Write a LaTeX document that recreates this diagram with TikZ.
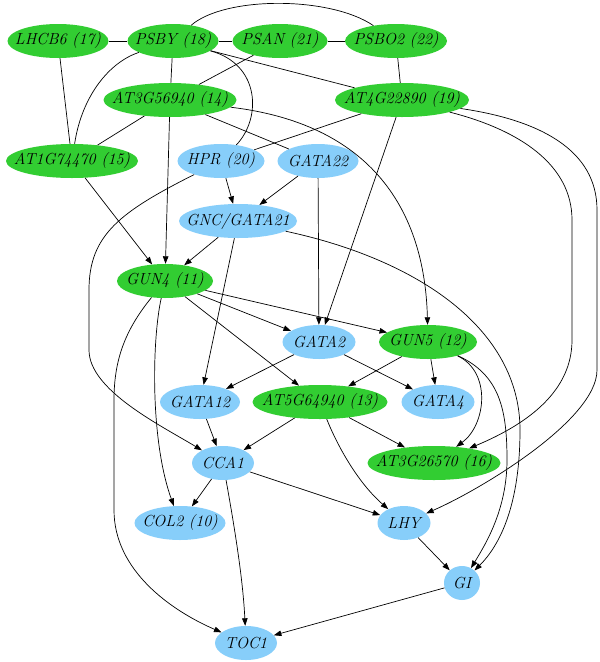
\documentclass[tikz,border=0pt]{standalone}
\usepackage{tikz}
\usetikzlibrary{arrows.meta,shapes.geometric}
\definecolor{genegreen}{RGB}{50,205,50}
\definecolor{geneblue}{RGB}{135,206,250}
\tikzset{
  gene/.style={ellipse, inner xsep=-20pt, inner ysep=-4pt, minimum height=34pt, font=\fontsize{16}{19}\selectfont\itshape},
  gnode/.style={gene, fill=genegreen, minimum width=#1},
  bnode/.style={gene, fill=geneblue, minimum width=#1},
  link/.style={line width=0.7pt},
  reg/.style={line width=0.7pt, -{Triangle[length=7.5pt,width=5.5pt]}}
}
\begin{document}
\begin{tikzpicture}[x=1pt,y=-1pt]
  \path[use as bounding box, fill=white] (0,0) rectangle (600,662);
  % genes
  \node[gnode=101pt] (lhcb6) at (58,41) {LHCB6 (17)};
  \node[gnode=91pt] (psby) at (173,41) {PSBY (18)};
  \node[gnode=95pt] (psan) at (280,41) {PSAN (21)};
  \node[gnode=102pt] (psbo2) at (396,41) {PSBO2 (22)};
  \node[gnode=133pt] (at3g56) at (170,100) {AT3G56940 (14)};
  \node[gnode=134pt] (at4g22) at (402,100) {AT4G22890 (19)};
  \node[gnode=132pt] (at1g74) at (72,161) {AT1G74470 (15)};
  \node[bnode=87pt] (hpr) at (221,161) {HPR (20)};
  \node[bnode=81pt] (gata22) at (318,161) {GATA22};
  \node[bnode=118pt] (gnc) at (238,221) {GNC/GATA21};
  \node[gnode=96pt] (gun4) at (165,281) {GUN4 (11)};
  \node[bnode=73pt] (gata2) at (319,342) {GATA2};
  \node[gnode=98pt] (gun5) at (428,342) {GUN5 (12)};
  \node[bnode=80pt] (gata12) at (200,402) {GATA12};
  \node[gnode=135pt] (at5g64) at (320,402) {AT5G64940 (13)};
  \node[bnode=73pt] (gata4) at (438,402) {GATA4};
  \node[bnode=62pt] (cca1) at (223,463) {CCA1};
  \node[gnode=133pt] (at3g26) at (434,463) {AT3G26570 (16)};
  \node[bnode=91pt] (col2) at (180,523) {COL2 (10)};
  \node[bnode=53pt] (lhy) at (404,523) {LHY};
  \node[bnode=36pt] (gi) at (462,583) {GI};
  \node[bnode=62pt] (toc1) at (246,643) {TOC1};
  % undirected links
  \foreach \a/\b in {lhcb6/psby, psby/psan, psan/psbo2, lhcb6/at1g74, psby/at3g56, psan/at3g56,
      psby/at4g22, psbo2/at4g22, at3g56/at1g74, at3g56/gata22, at4g22/hpr}
    \draw[link] (\a) -- (\b);
  \draw[link] (psby) .. controls (225,-4) and (330,-4) .. (psbo2);
  \draw[link] (psby) .. controls (110,62) and (82,95) .. (at1g74);
  \draw[link] (psby) .. controls (260,64) and (262,118) .. (hpr);
  % regulations
  \foreach \a/\b in {at1g74/gun4, at3g56/gun4, gnc/gun4, hpr/gnc, gata22/gnc, gata22/gata2,
      at4g22/gata2, gnc/gata12, gun4/gata2, gun4/gun5, gun4/at5g64, gata2/gata12, gata2/gata4,
      gun5/gata4, gun5/at5g64, gata12/cca1, at5g64/cca1, at5g64/at3g26, cca1/col2, cca1/lhy,
      lhy/gi, gi/toc1}
    \draw[reg] (\a) -- (\b);
  \draw[reg] (hpr) .. controls (120,212) and (89,235) .. (89,290) -- (89,350)
    .. controls (89,390) and (160,425) .. (cca1);
  \draw[reg] (at3g56) .. controls (380,125) and (425,220) .. (gun5);
  \draw[reg] (gnc) .. controls (420,260) and (520,330) .. (520,430)
    .. controls (520,505) and (500,545) .. (gi);
  \draw[reg] (gun4) .. controls (152,340) and (150,440) .. (col2);
  \draw[reg] (gun4) .. controls (125,330) and (114,360) .. (114,400) -- (114,510)
    .. controls (114,570) and (170,610) .. (toc1);
  \draw[reg] (gun5) .. controls (492,372) and (486,425) .. (at3g26);
  \draw[reg] (gun5) .. controls (500,375) and (507,410) .. (507,460)
    .. controls (507,510) and (485,545) .. (gi);
  \draw[reg] (at4g22) .. controls (520,130) and (572,165) .. (572,220) -- (572,340)
    .. controls (572,390) and (530,423) .. (at3g26);
  \draw[reg] (at4g22) .. controls (540,120) and (597,150) .. (597,210) -- (597,370)
    .. controls (597,420) and (480,490) .. (lhy);
  \draw[reg] (at5g64) .. controls (335,440) and (355,480) .. (lhy);
  \draw[reg] (cca1) .. controls (235,530) and (243,580) .. (toc1);
\end{tikzpicture}
\end{document}
